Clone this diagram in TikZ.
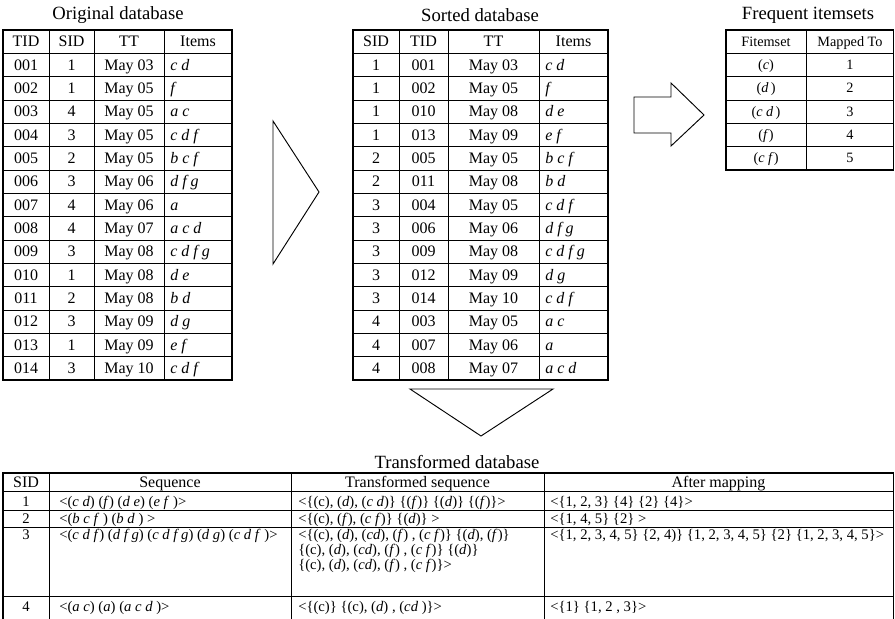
\documentclass[tikz,border=0pt]{standalone}
\usepackage{fontspec}
\setmainfont{Liberation Serif}
\newcommand{\im}[1]{\textit{#1}}

\begin{document}
\begin{tikzpicture}[x=0.75pt,y=-0.75pt,
		cell/.style={inner sep=0pt,anchor=base,font=\fontsize{12}{12}\selectfont},
		lcell/.style={cell,anchor=base west},
		small/.style={inner sep=0pt,anchor=base,font=\fontsize{10.7}{11}\selectfont},
		bcell/.style={inner sep=0pt,anchor=base west,font=\fontsize{11}{11}\selectfont},
		ttl/.style={inner sep=0pt,font=\fontsize{14}{14}\selectfont},
		frame/.style={line width=0.9pt},
		grid/.style={line width=0.6pt}]
	\useasboundingbox (0,0) rectangle (895,618);

	% original database
	\node[ttl] (ot) at (118,15) {Original database};
	\draw[frame] (3,30) rectangle (232,380);
	\foreach \k in {1,...,14} \draw[grid] (3,{30+\k*23.333}) -- (232,{30+\k*23.333});
	\foreach \x in {49,94,164} \draw[grid] (\x,30) -- (\x,380);
	\node[cell] (oh1) at (26,46.7) {TID};
	\node[cell] (oh2) at (71.5,46.7) {SID};
	\node[cell] (oh3) at (129,46.7) {TT};
	\node[cell] (oh4) at (198,46.7) {Items};
	\foreach \tno/\sno/\when/\its [count=\k] in {001/1/May 03/c d,002/1/May 05/f,003/4/May 05/a c,
			004/3/May 05/c d f,005/2/May 05/b c f,006/3/May 06/d f g,007/4/May 06/a,008/4/May 07/a c d,
			009/3/May 08/c d f g,010/1/May 08/d e,011/2/May 08/b d,012/3/May 09/d g,013/1/May 09/e f,
			014/3/May 10/c d f}{
		\node[cell] (o\k-1) at (26,{46.7+\k*23.333}) {\tno};
		\node[cell] (o\k-2) at (71.5,{46.7+\k*23.333}) {\sno};
		\node[cell] (o\k-3) at (129,{46.7+\k*23.333}) {\when};
		\node[lcell] (o\k-4) at (170,{46.7+\k*23.333}) {\im{\its}};
	}

	% sorted database
	\node[ttl] (st) at (480,15) {Sorted database};
	\draw[frame] (353,30) rectangle (608,380);
	\foreach \k in {1,...,14} \draw[grid] (353,{30+\k*23.333}) -- (608,{30+\k*23.333});
	\foreach \x in {399,448,539} \draw[grid] (\x,30) -- (\x,380);
	\node[cell] (sh1) at (376,46.7) {SID};
	\node[cell] (sh2) at (423.5,46.7) {TID};
	\node[cell] (sh3) at (493.5,46.7) {TT};
	\node[cell] (sh4) at (573.5,46.7) {Items};
	\foreach \sno/\tno/\when/\its [count=\k] in {1/001/May 03/c d,1/002/May 05/f,1/010/May 08/d e,
			1/013/May 09/e f,2/005/May 05/b c f,2/011/May 08/b d,3/004/May 05/c d f,3/006/May 06/d f g,
			3/009/May 08/c d f g,3/012/May 09/d g,3/014/May 10/c d f,4/003/May 05/a c,4/007/May 06/a,
			4/008/May 07/a c d}{
		\node[cell] (s\k-1) at (376,{46.7+\k*23.333}) {\sno};
		\node[cell] (s\k-2) at (423.5,{46.7+\k*23.333}) {\tno};
		\node[cell] (s\k-3) at (493.5,{46.7+\k*23.333}) {\when};
		\node[lcell] (s\k-4) at (545,{46.7+\k*23.333}) {\im{\its}};
	}

	% frequent itemsets
	\node[ttl] (ft) at (808,15) {Frequent itemsets};
	\draw[frame] (726,30) rectangle (893.5,170);
	\foreach \k in {1,...,5} \draw[grid] (726,{30+\k*23.333}) -- (893.5,{30+\k*23.333});
	\draw[grid] (806,30) -- (806,170);
	\node[small] (fh1) at (766,46) {Fitemset};
	\node[small] (fh2) at (850,46) {Mapped To};
	\foreach \fis/\num [count=\k] in {c/1,d\,/2,c d\,/3,f/4,c f/5}{
		\node[small] (f\k-1) at (766,{46+\k*23.333}) {(\im{\fis})};
		\node[small] (f\k-2) at (850,{46+\k*23.333}) {\num};
	}

	% arrows
	\draw[line width=0.7pt] (273,121) -- (319,192) -- (273,264) -- cycle;
	\draw[line width=0.7pt] (634,97) -- (671,97) -- (671,83) -- (704,115) -- (671,146) -- (671,133) -- (634,133) -- cycle;
	\draw[line width=0.7pt] (410,389) -- (553,389) -- (481,436) -- cycle;

	% transformed database
	\node[ttl] (tt) at (457,462) {Transformed database};
	\draw[frame] (3,625) -- (3,473) -- (893.5,473) -- (893.5,625);
	\foreach \y in {491.7,510.7,527.3,596.5} \draw[grid] (3,\y) -- (893.5,\y);
	\foreach \x in {49,291,544} \draw[grid] (\x,473) -- (\x,625);
	\node[cell] (th1) at (26,487.6) {SID};
	\node[cell] (th2) at (170,487.6) {Sequence};
	\node[cell] (th3) at (417.5,487.6) {Transformed sequence};
	\node[cell] (th4) at (718.5,487.6) {After mapping};
	\node[cell,font=\fontsize{11}{11}\selectfont] (t1-1) at (26,506) {1};
	\node[bcell] (t1-2) at (59,506) {<(\im{c d}) (\im{f}) (\im{d e}) (\im{e f} )>};
	\node[bcell] (t1-3) at (298,506) {<\{(c), (\im{d}), (\im{c d})\} \{(\im{f})\} \{(\im{d})\} \{(\im{f})\}>};
	\node[bcell] (t1-4) at (550,506) {<\{1, 2, 3\} \{4\} \{2\} \{4\}>};
	\node[cell,font=\fontsize{11}{11}\selectfont] (t2-1) at (26,523.8) {2};
	\node[bcell] (t2-2) at (59,523.8) {<(\im{b c f} ) (\im{b d} ) >};
	\node[bcell] (t2-3) at (298,523.8) {<\{(c), (\im{f}), (\im{c f})\} \{(\im{d})\} >};
	\node[bcell] (t2-4) at (550,523.8) {<\{1, 4, 5\} \{2\} >};
	\node[cell,font=\fontsize{11}{11}\selectfont] (t3-1) at (26,539) {3};
	\node[bcell] (t3-2) at (59,539) {<(\im{c d f}) (\im{d f g}) (\im{c d f g}) (\im{d g}) (\im{c d f} )>};
	\node[bcell,anchor=north west,align=left,font=\fontsize{11}{9.2}\selectfont] (t3-3) at (298,529)
		{<\{(c), (\im{d}), (\im{cd}), (\im{f}) , (\im{c f})\} \{(\im{d}), (\im{f})\}\\
		\{(c), (\im{d}), (\im{cd}), (\im{f}) , (\im{c f})\} \{(\im{d})\}\\
		\{(c), (\im{d}), (\im{cd}), (\im{f}) , (\im{c f})\}>};
	\node[bcell] (t3-4) at (550,539) {<\{1, 2, 3, 4, 5\} \{2, 4)\} \{1, 2, 3, 4, 5\} \{2\} \{1, 2, 3, 4, 5\}>};
	\node[cell,font=\fontsize{11}{11}\selectfont] (t4-1) at (26,611.5) {4};
	\node[bcell] (t4-2) at (59,611.5) {<(\im{a c}) (\im{a}) (\im{a c d} )>};
	\node[bcell] (t4-3) at (298,611.5) {<\{(c)\} \{(c), (\im{d}) , (\im{cd} )\}>};
	\node[bcell] (t4-4) at (550,611.5) {<\{1\} \{1, 2 , 3\}>};
\end{tikzpicture}
\end{document}
